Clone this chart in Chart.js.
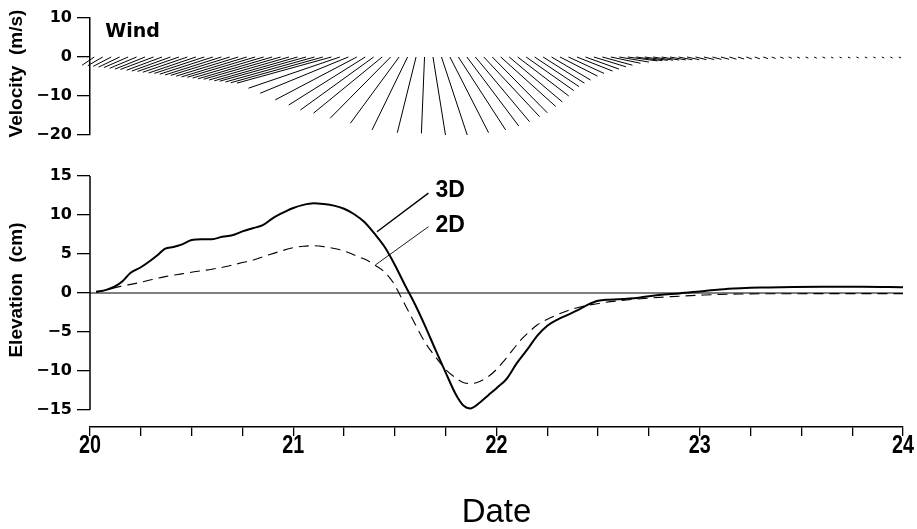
<!DOCTYPE html>
<html><head><meta charset="utf-8">
<script src="https://cdn.jsdelivr.net/npm/chart.js@4.4.1/dist/chart.umd.min.js"></script>
<style>
html,body{margin:0;padding:0;background:#fff;}
#wrap{position:relative;width:917px;height:529px;overflow:hidden;background:#fff;}
#c1{position:absolute;left:0;top:0;width:917px;height:150px;}
#c2{position:absolute;left:0;top:150px;width:917px;height:379px;}
</style></head><body>
<div id="wrap"><canvas id="c1" width="917" height="150"></canvas><canvas id="c2" width="917" height="379"></canvas></div>
<script>
// ---------- data ----------
// hourly wind vectors (m/s), sticks at half-hour marks from day 20 to day 24
const windU = [
 -3.1,-3.8,-4.6,-5.4,-6.2,-6.9,-7.7,-8.5,-9.1,-9.9,
 -10.6,-11.4,-12.1,-12.8,-13.6,-14.4,-15.1,-15.9,-16.7,-17.4,
 -18.2,-19.0,-19.7,-20.5,-21.3,-22.1,-22.8,-23.6,-24.2,-23.4,
 -22.6,-20.9,-19.6,-18.8,-17.6,-15.5,-12.5,-9.1,-4.8,-0.8,
 3.2,6.6,9.9,12.1,13.3,13.9,14.3,14.1,14.1,13.6,
 13.1,12.2,11.4,10.6,10.0,9.6,9.1,9.1,8.6,8.2,
 7.7,7.6,7.6,7.6,6.7,5.9,5.1,4.5,4.0,3.5,
 3.1,2.8,2.6,2.3,2.1,1.8,1.6,1.4,1.3,1.2,
 1.0,0.9,0.8,0.7,0.7,0.7,0.7,0.6,0.6,0.6,
 0.6,0.6,0.6,0.6,0.6,0.6];
const windV = [
 -2.1,-2.2,-2.4,-2.6,-2.7,-2.9,-3.1,-3.2,-3.4,-3.6,
 -3.7,-3.9,-4.1,-4.2,-4.4,-4.6,-4.7,-4.9,-5.1,-5.2,
 -5.4,-5.6,-5.7,-5.9,-6.1,-6.2,-6.4,-6.6,-6.7,-8.0,
 -9.3,-11.0,-12.3,-13.6,-14.4,-15.7,-17.0,-18.7,-19.4,-19.6,
 -20.0,-20.0,-19.4,-18.7,-17.7,-16.6,-15.3,-14.3,-12.7,-11.5,
 -10.0,-8.6,-7.6,-6.7,-5.9,-4.9,-4.2,-3.6,-3.1,-2.5,
 -2.1,-1.6,-1.3,-1.0,-0.95,-0.87,-0.82,-0.77,-0.74,-0.72,
 -0.69,-0.67,-0.64,-0.62,-0.59,-0.56,-0.51,-0.49,-0.46,-0.41,
 -0.38,-0.36,-0.33,-0.31,-0.3,-0.3,-0.28,-0.28,-0.27,-0.27,
 -0.26,-0.26,-0.25,-0.25,-0.25,-0.25];

const elev3dTime = [20.03,20.08,20.12,20.16,20.20,20.25,20.29,20.33,20.37,20.41,20.45,20.50,20.55,20.60,20.65,20.70,20.75,20.80,20.85,20.90,20.95,21.00,21.05,21.10,21.15,21.20,21.25,21.30,21.35,21.40,21.45,21.50,21.55,21.60,21.65,21.70,21.75,21.80,21.84,21.87,21.92,21.96,22.00,22.05,22.10,22.15,22.20,22.25,22.30,22.35,22.40,22.45,22.50,22.55,22.60,22.70,22.80,22.90,23.00,23.10,23.20,23.30,23.40,23.60,23.80,24.00];
const elev3dValue = [0.15,0.4,0.8,1.5,2.6,3.3,4.0,4.8,5.7,5.9,6.2,6.8,6.9,6.9,7.2,7.4,7.9,8.3,8.7,9.6,10.3,10.9,11.3,11.5,11.4,11.2,10.8,10.1,9.1,7.6,5.9,3.6,1.0,-1.5,-4.3,-7.3,-10.2,-13.0,-14.5,-14.8,-14.0,-13.1,-12.2,-11.0,-9.0,-7.3,-5.5,-4.2,-3.4,-2.8,-2.2,-1.5,-1.0,-0.85,-0.8,-0.6,-0.25,-0.05,0.2,0.45,0.6,0.7,0.75,0.8,0.8,0.75];
const elev2dTime = [20.03,20.10,20.15,20.22,20.30,20.37,20.45,20.52,20.60,20.67,20.75,20.80,20.87,20.93,21.00,21.05,21.10,21.15,21.22,21.27,21.32,21.37,21.40,21.44,21.47,21.50,21.52,21.55,21.60,21.65,21.70,21.75,21.80,21.84,21.88,21.92,21.96,22.00,22.04,22.08,22.12,22.16,22.20,22.28,22.38,22.51,22.68,22.86,23.02,23.19,23.43,24.00];
const elev2dValue = [0.1,0.5,0.85,1.2,1.7,2.1,2.45,2.75,3.05,3.4,3.9,4.2,4.8,5.3,5.8,6.0,6.05,5.95,5.6,5.2,4.65,4.1,3.6,2.9,2.1,1.0,0.0,-1.5,-4.0,-6.4,-8.2,-9.8,-10.9,-11.5,-11.6,-11.3,-10.7,-9.8,-8.6,-7.3,-6.0,-5.0,-4.1,-3.0,-2.0,-1.3,-0.8,-0.47,-0.26,-0.13,-0.09,-0.08];

const dateMajorTicks = [20,21,22,23,24];
const dateMajorLabels = ['20','21','22','23','24'];
const dateMinorTicks = [20.25,20.5,20.75,21.25,21.5,21.75,22.25,22.5,22.75,23.25,23.5,23.75];
const windTicks = [-20,-10,0,10];
const elevTicks = [-15,-10,-5,0,5,10,15];

// ---------- style / annotation constants ----------
const STICK_DAYS_PER_MS = 0.0192;   // horizontal length of 1 m/s in days (same pixel size as vertical)
const labelWind = {t:20.075, v:6.4, text:'Wind'};
const label3D = {t:21.70, v:13.1, text:'3D'};
const label2D = {t:21.70, v:8.6, text:'2D'};
const leader3D = [{x:21.412,y:7.86},{x:21.665,y:12.8}];
const leader2D = [{x:21.404,y:3.59},{x:21.665,y:8.5}];

const fmt = v => (v < 0 ? '\u2212' + Math.abs(v) : String(v));
const tickFont = {family:'DejaVu Sans', weight:'bold', size:16};

// ---------- wind stick chart ----------
const stickData = [];
for (let k = 0; k < windU.length; k++) {
  const t = 20 + (k + 0.5) / 24;
  stickData.push({x:t, y:0});
  stickData.push({x:t + windU[k] * STICK_DAYS_PER_MS, y:windV[k]});
  stickData.push({x:t, y:null});
}

function drawVTitle(ctx, text, x, y) {
  ctx.save();
  ctx.translate(x, y);
  ctx.rotate(-Math.PI / 2);
  ctx.fillStyle = '#000';
  ctx.font = 'bold 19px "Liberation Sans", Arial, sans-serif';
  ctx.textAlign = 'center';
  ctx.textBaseline = 'middle';
  ctx.fillText(text, 0, 0);
  ctx.restore();
}

const topPlugin = {
  id:'topAnnot',
  afterDraw(chart) {
    const ctx = chart.ctx, xs = chart.scales.x, ys = chart.scales.y;
    ctx.save();
    ctx.fillStyle = '#000';
    ctx.font = 'bold 19px "DejaVu Sans", sans-serif';
    ctx.textAlign = 'left';
    ctx.textBaseline = 'middle';
    ctx.fillText(labelWind.text, xs.getPixelForValue(labelWind.t), ys.getPixelForValue(labelWind.v));
    ctx.restore();
    drawVTitle(ctx, 'Velocity  (m/s)', 17, (ys.getPixelForValue(10) + ys.getPixelForValue(-20)) / 2 - 3);
  }
};

new Chart(document.getElementById('c1'), {
  type:'scatter',
  data:{datasets:[{data:stickData, showLine:true, spanGaps:false, borderColor:'#000', borderWidth:1, pointRadius:0, clip:false}]},
  options:{
    responsive:false, animation:false, events:[],
    layout:{padding:{left:0, right:14, top:18, bottom:15}},
    plugins:{legend:{display:false}, tooltip:{enabled:false}},
    scales:{
      x:{type:'linear', min:20, max:24, display:false},
      y:{type:'linear', min:-20, max:10,
        afterFit:s => { s.width = 90; },
        afterBuildTicks:s => { s.ticks = windTicks.map(v => ({value:v})); },
        ticks:{color:'#000', font:tickFont, padding:5, callback:fmt},
        grid:{drawOnChartArea:false, drawTicks:true, tickLength:13, color:'#000', lineWidth:1.3},
        border:{display:true, color:'#000', width:1.5}}
    }
  },
  plugins:[topPlugin]
});

// ---------- elevation chart ----------
const botPlugin = {
  id:'botAnnot',
  afterDraw(chart) {
    const ctx = chart.ctx, xs = chart.scales.x, ys = chart.scales.y;
    const ax = chart.chartArea.left;
    ctx.save();
    ctx.strokeStyle = '#000';
    ctx.lineWidth = 1.5;
    ctx.beginPath();
    ctx.moveTo(ax, ys.getPixelForValue(elevTicks[elevTicks.length - 1]));
    ctx.lineTo(ax, ys.getPixelForValue(elevTicks[0]));
    ctx.stroke();
    ctx.fillStyle = '#000';
    // line labels
    ctx.font = 'bold 23px "Liberation Sans", Arial, sans-serif';
    ctx.textAlign = 'left';
    ctx.textBaseline = 'middle';
    ctx.fillText(label3D.text, xs.getPixelForValue(label3D.t), ys.getPixelForValue(label3D.v));
    ctx.fillText(label2D.text, xs.getPixelForValue(label2D.t), ys.getPixelForValue(label2D.v));
    // condensed date tick labels
    ctx.font = 'bold 26px "Liberation Sans", Arial, sans-serif';
    ctx.textAlign = 'center';
    const ly = chart.chartArea.bottom + 19;
    dateMajorTicks.forEach((v, i) => {
      ctx.save();
      ctx.translate(xs.getPixelForValue(v), ly);
      ctx.scale(0.76, 1);
      ctx.fillText(dateMajorLabels[i], 0, 0);
      ctx.restore();
    });
    // axis title
    ctx.font = '33px "Liberation Sans", Arial, sans-serif';
    ctx.fillText('Date', (xs.left + xs.right) / 2, chart.chartArea.bottom + 86);
    ctx.restore();
    drawVTitle(ctx, 'Elevation  (cm)', 17, (ys.getPixelForValue(15) + ys.getPixelForValue(-15)) / 2 - 3);
  }
};

const pts = (ts, vs) => ts.map((t, i) => ({x:t, y:vs[i]}));
const allDateTicks = dateMajorTicks.concat(dateMinorTicks).sort((a, b) => a - b);

new Chart(document.getElementById('c2'), {
  type:'scatter',
  data:{datasets:[
    {data:[{x:20,y:0},{x:24,y:0}], showLine:true, borderColor:'#000', borderWidth:1.2, pointRadius:0},
    {data:pts(elev3dTime, elev3dValue), showLine:true, borderColor:'#000', borderWidth:2, pointRadius:0, cubicInterpolationMode:'monotone'},
    {data:pts(elev2dTime, elev2dValue), showLine:true, borderColor:'#000', borderWidth:1.1, borderDash:[10,6], pointRadius:0, cubicInterpolationMode:'monotone'},
    {data:leader3D, showLine:true, borderColor:'#000', borderWidth:1.4, pointRadius:0},
    {data:leader2D, showLine:true, borderColor:'#000', borderWidth:0.9, pointRadius:0}
  ]},
  options:{
    responsive:false, animation:false, events:[],
    layout:{padding:{left:0, right:14, top:26, bottom:0}},
    plugins:{legend:{display:false}, tooltip:{enabled:false}},
    scales:{
      x:{type:'linear', min:20, max:24,
        afterFit:s => { s.height = 102; },
        afterBuildTicks:s => { s.ticks = allDateTicks.map(v => ({value:v})); },
        ticks:{display:true, color:'#000', font:{size:1}, padding:0, maxRotation:0, autoSkip:false, callback:() => ''},
        grid:{drawOnChartArea:false, drawTicks:true, tickLength:9, color:'#000', lineWidth:1.3},
        border:{display:true, color:'#000', width:1.5},
        title:{display:false}},
      y:{type:'linear', min:-17.18, max:15,
        afterFit:s => { s.width = 90; },
        afterBuildTicks:s => { s.ticks = elevTicks.map(v => ({value:v})); },
        ticks:{color:'#000', font:tickFont, padding:5, callback:fmt},
        grid:{drawOnChartArea:false, drawTicks:true, tickLength:13, color:'#000', lineWidth:1.3},
        border:{display:false}}
    }
  },
  plugins:[botPlugin]
});
</script>
</body></html>
